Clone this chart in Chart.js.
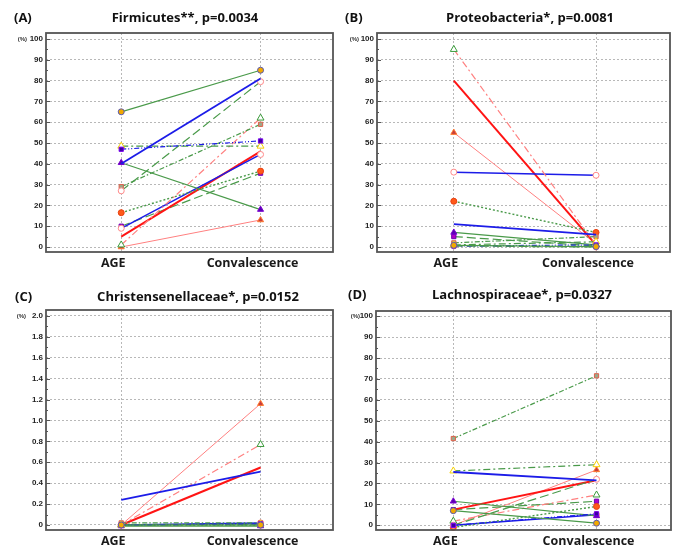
<!DOCTYPE html>
<html>
<head>
  <meta charset="utf-8">
  <title>AGE vs Convalescence</title>
  <script src="https://cdn.jsdelivr.net/npm/chart.js"></script>
  <style>
    html, body { margin: 0; padding: 0; background: #fff; overflow: hidden; }
    .grid { position: relative; width: 676px; height: 547px; }
    .panel { position: absolute; width: 338px; }
    .panel canvas { display: block; }
  </style>
</head>
<body>
  <div class="grid">
    <div class="panel" style="left:0;top:0"><canvas id="chartA" width="338" height="273"></canvas></div>
    <div class="panel" style="left:338px;top:0"><canvas id="chartB" width="338" height="273"></canvas></div>
    <div class="panel" style="left:0;top:273px"><canvas id="chartC" width="338" height="274"></canvas></div>
    <div class="panel" style="left:338px;top:273px"><canvas id="chartD" width="338" height="274"></canvas></div>
  </div>

  <script>
    // x categories
    const categories = ['AGE', 'Convalescence'];

    // y tick labels
    const pctTicks = [0, 10, 20, 30, 40, 50, 60, 70, 80, 90, 100];
    const smallTicks = [0, 0.2, 0.4, 0.6, 0.8, 1.0, 1.2, 1.4, 1.6, 1.8, 2.0];

    // relative abundance (%) per patient, order = patient 1..13
    const firmicutesAge  = [65, 40, 47, 48.5, 40.5, 27, 29, 1, 16.5, 9, 5, 10, 0];
    const firmicutesConv = [85, 81, 51, 48.5, 18, 79.5, 59, 62, 36.5, 44.5, 46, 35.5, 13];

    const proteoAge  = [0.8, 11, 0.5, 1, 7, 0.5, 2, 95, 22, 36, 80, 5, 55];
    const proteoConv = [0.2, 6, 1, 2.5, 1, 0, 5, 1, 7, 34.5, 1, 0.5, 1.5];

    const christAge  = [0, 0.24, 0, 0, -0.01, 0, 0.02, 0, 0, 0, 0, 0, 0];
    const christConv = [0, 0.51, 0.01, 0.01, -0.01, 0, 0.02, 0.77, 0, 0.02, 0.55, 0.01, 1.16];

    const lachnoAge  = [7, 25.5, 0, 26, 11.5, 0, 41.5, 2, -1, 0, 7.5, 7.5, 0];
    const lachnoConv = [1, 21.5, 5.5, 29, 4.5, 22, 71.5, 14.5, 9, 5, 21.5, 11.5, 26.5];

    // line / marker look for each patient
    const green = '#4a9a4a', blue = '#1c1ce8', red = '#ff1414', salmon = '#ff8080';
    const patientStyles = [
      { line: green,  width: 1.2, dash: [],                 shape: 'circle',   fill: '#f2a900', edge: '#5a5ab0', r: 3 },
      { line: blue,   width: 1.8, dash: [],                 shape: 'circle',   fill: blue,      edge: blue,      r: 0 },
      { line: blue,   width: 1.2, dash: [5, 2, 1, 2, 1, 2], shape: 'rect',     fill: '#3c00a0', edge: '#7a00f0', r: 3 },
      { line: green,  width: 1.2, dash: [7, 3, 2, 3],       shape: 'triangle', fill: '#ffffff', edge: '#f5d000', r: 4 },
      { line: green,  width: 1.2, dash: [],                 shape: 'triangle', fill: '#5a00b4', edge: '#7a00d0', r: 3.5 },
      { line: green,  width: 1.2, dash: [9, 4],             shape: 'circle',   fill: '#ffffff', edge: '#ff8a8a', r: 3 },
      { line: green,  width: 1.2, dash: [5, 2, 1.5, 2],     shape: 'rect',     fill: '#9aa88a', edge: '#e0604a', r: 3 },
      { line: salmon, width: 1.2, dash: [7, 3, 2, 3],       shape: 'triangle', fill: '#ffffff', edge: '#3a9a3a', r: 4 },
      { line: green,  width: 1.4, dash: [2, 2],             shape: 'circle',   fill: '#ff5a1a', edge: '#e84010', r: 3 },
      { line: blue,   width: 1.5, dash: [],                 shape: 'circle',   fill: '#ffffff', edge: '#ff8a8a', r: 3 },
      { line: red,    width: 2,   dash: [],                 shape: 'circle',   fill: red,       edge: red,       r: 0 },
      { line: green,  width: 1.2, dash: [9, 4],             shape: 'rect',     fill: '#b000c8', edge: '#7000b0', r: 3 },
      { line: salmon, width: 1,   dash: [],                 shape: 'triangle', fill: '#c83c3c', edge: '#ff7a30', r: 3.5 }
    ];

    // frame, inner ticks, panel letter, title and the (%) unit
    const panelDecor = {
      id: 'panelDecor',
      afterDraw(chart, args, o) {
        const { ctx, chartArea: a } = chart;
        const y = chart.scales.y;
        ctx.save();
        // inner tick marks on the left edge
        ctx.strokeStyle = '#555';
        ctx.lineWidth = 1;
        ctx.setLineDash([]);
        const vals = o.ticks;
        for (let i = 0; i < vals.length; i++) {
          const py = Math.round(y.getPixelForValue(vals[i])) + 0.5;
          ctx.beginPath(); ctx.moveTo(a.left, py); ctx.lineTo(a.left + 4, py); ctx.stroke();
          if (i < vals.length - 1) {
            const my = Math.round(y.getPixelForValue((vals[i] + vals[i + 1]) / 2)) + 0.5;
            ctx.beginPath(); ctx.moveTo(a.left, my); ctx.lineTo(a.left + 2, my); ctx.stroke();
          }
        }
        // frame
        ctx.strokeStyle = '#555';
        ctx.lineWidth = 1.8;
        ctx.strokeRect(a.left, a.top, a.right - a.left, a.bottom - a.top);
        // letter and title
        ctx.fillStyle = '#111';
        ctx.textBaseline = 'middle';
        ctx.font = 'bold 13px "Open Sans", sans-serif';
        ctx.textAlign = 'left';
        ctx.fillText(o.letter, o.letterX, o.titleY);
        ctx.textAlign = 'center';
        ctx.fillText(o.title, o.titleX, o.titleY);
        // unit
        ctx.font = 'bold 6px "Liberation Sans", sans-serif';
        ctx.textAlign = 'right';
        ctx.fillStyle = '#333';
        ctx.fillText('(%)', o.unitX, y.getPixelForValue(vals[vals.length - 1]));
        ctx.restore();
      }
    };

    function makePanel(id, letter, title, ageVals, convVals, cfg) {
      const datasets = ageVals.map((v, i) => {
        const s = patientStyles[i];
        return {
          label: 'Patient ' + (i + 1),
          data: [{ x: 0, y: v }, { x: 1, y: convVals[i] }],
          borderColor: s.line,
          borderWidth: s.width,
          borderDash: s.dash,
          pointStyle: s.shape,
          pointRadius: s.r,
          pointBackgroundColor: s.fill,
          pointBorderColor: s.edge,
          pointBorderWidth: 1,
          showLine: true,
          clip: false
        };
      });
      const gridStyle = { color: '#b8b8b8', lineWidth: 1, drawTicks: false };
      return new Chart(document.getElementById(id), {
        type: 'scatter',
        data: { datasets: datasets },
        plugins: [panelDecor],
        options: {
          responsive: false,
          animation: false,
          devicePixelRatio: 1,
          layout: { padding: { left: 0, right: cfg.right, top: cfg.top, bottom: 0 } },
          plugins: {
            legend: { display: false },
            tooltip: { enabled: false },
            title: { display: false },
            panelDecor: {
              letter: letter, title: title, ticks: cfg.ticks,
              letterX: cfg.letterX, titleX: cfg.titleX, titleY: cfg.titleY, unitX: cfg.unitX
            }
          },
          scales: {
            x: {
              type: 'linear', min: -0.54, max: 1.52,
              grid: gridStyle,
              border: { display: false, dash: [2, 2] },
              afterBuildTicks: sc => { sc.ticks = [{ value: 0 }, { value: 1 }]; },
              afterFit: sc => { sc.height = cfg.bottom; },
              ticks: {
                padding: 4,
                labelOffset: -8,
                color: '#1a1a1a',
                font: { family: '"Open Sans", sans-serif', size: 12.5, weight: 'bold' },
                callback: v => categories[v]
              }
            },
            y: {
              type: 'linear', min: cfg.min, max: cfg.max,
              grid: gridStyle,
              border: { display: false, dash: [2, 2] },
              afterBuildTicks: sc => { sc.ticks = cfg.ticks.map(v => ({ value: v })); },
              afterFit: sc => { sc.width = cfg.left; },
              ticks: {
                padding: 3,
                color: '#222',
                font: { family: '"Liberation Sans", Arial, sans-serif', size: 8, weight: 'bold' },
                callback: v => cfg.fmt(v)
              }
            }
          }
        }
      });
    }

    const pctFmt = v => String(Math.round(v));
    const smallFmt = v => (v === 0 ? '0' : v.toFixed(1));

    makePanel('chartA', '(A)', 'Firmicutes**, p=0.0034', firmicutesAge, firmicutesConv,
      { left: 46, right: 3, top: 33, bottom: 21, min: -2.4, max: 102.9, ticks: pctTicks, fmt: pctFmt,
        letterX: 14, titleX: 185, titleY: 18, unitX: 27 });
    makePanel('chartB', '(B)', 'Proteobacteria*, p=0.0081', proteoAge, proteoConv,
      { left: 39, right: 6, top: 33, bottom: 21, min: -2.4, max: 102.9, ticks: pctTicks, fmt: pctFmt,
        letterX: 7, titleX: 192, titleY: 18, unitX: 21 });
    makePanel('chartC', '(C)', 'Christensenellaceae*, p=0.0152', christAge, christConv,
      { left: 46, right: 3, top: 37, bottom: 17, min: -0.048, max: 2.056, ticks: smallTicks, fmt: smallFmt,
        letterX: 15, titleX: 198, titleY: 24, unitX: 26 });
    makePanel('chartD', '(D)', 'Lachnospiraceae*, p=0.0327', lachnoAge, lachnoConv,
      { left: 38, right: 5, top: 38, bottom: 17, min: -2.25, max: 102.5, ticks: pctTicks, fmt: pctFmt,
        letterX: 10, titleX: 184, titleY: 22, unitX: 22 });
  </script>
</body>
</html>
